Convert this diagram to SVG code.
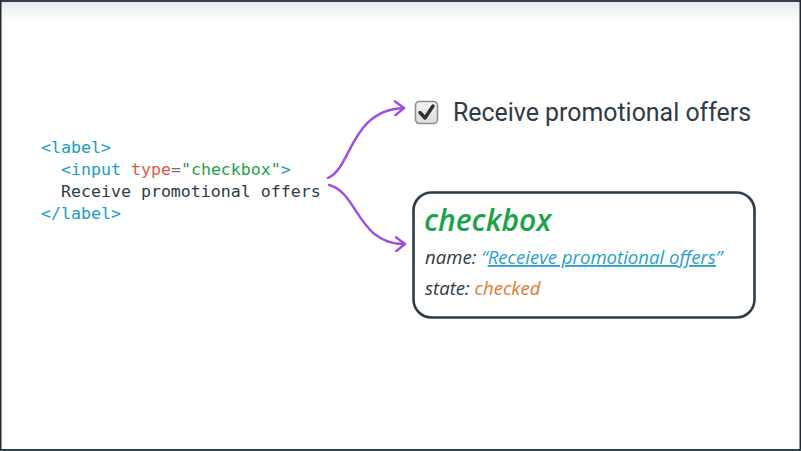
<svg xmlns="http://www.w3.org/2000/svg" width="801" height="451" viewBox="0 0 801 451">
<defs>
<linearGradient id="topshade" x1="0" y1="0" x2="0" y2="1">
<stop offset="0" stop-color="#e6e8ea"/>
<stop offset="1" stop-color="#ffffff"/>
</linearGradient>
<linearGradient id="cbfill" x1="0" y1="0" x2="0" y2="1">
<stop offset="0" stop-color="#f4f4f4"/>
<stop offset="1" stop-color="#dcdcdc"/>
</linearGradient>
<marker id="arrow" viewBox="0 0 12 16" refX="10" refY="8" markerWidth="12" markerHeight="16" markerUnits="userSpaceOnUse" orient="auto">
<path d="M1,1 L10,8 L1,15" fill="none" stroke="#9b4ee0" stroke-width="2.4" stroke-linecap="round" stroke-linejoin="round"/>
</marker>
<style>
.code{font-family:"DejaVu Sans Mono","Liberation Mono",monospace;font-size:16.6px;fill:#2f3a45}
.tag{fill:#1b9cc4}
.attr{fill:#e0554c}
.eq{fill:#6b7480}
.str{fill:#1fa24a}
.hand{font-family:"Open Sans","DejaVu Sans",sans-serif;font-style:italic}
.conn{fill:none;stroke:#9b4ee0;stroke-width:2.4;stroke-linecap:round}
</style>
</defs>
<rect x="0" y="0" width="801" height="451" fill="#ffffff"/>
<rect x="0" y="0" width="801" height="22" fill="url(#topshade)"/>
<rect x="0" y="0" width="801" height="2" fill="#34404c"/>
<rect x="0" y="0" width="1.5" height="451" fill="#1e2a33"/>
<rect x="799.5" y="0" width="1.5" height="451" fill="#1e2a33"/>
<rect x="0" y="449" width="801" height="2" fill="#34404c"/>

<g id="code">
<text class="code" x="41" y="153"><tspan class="tag">&lt;label&gt;</tspan></text>
<text class="code" x="41" y="175" xml:space="preserve">  <tspan class="tag">&lt;input</tspan> <tspan class="attr">type</tspan><tspan class="eq">=</tspan><tspan class="str">"checkbox"</tspan><tspan class="tag">&gt;</tspan></text>
<text class="code" x="41" y="197" xml:space="preserve">  Receive promotional offers</text>
<text class="code" x="41" y="219"><tspan class="tag">&lt;/label&gt;</tspan></text>
</g>

<g id="rendered-checkbox">
<rect x="415.5" y="101.5" width="22" height="22" rx="4" fill="url(#cbfill)" stroke="#8a8f94" stroke-width="1.6"/>
<path d="M420,112.5 L425,118 L433,106" fill="none" stroke="#2d3136" stroke-width="3.4" stroke-linecap="round" stroke-linejoin="round"/>
<text x="453" y="121" font-family="Roboto,'Liberation Sans',sans-serif" font-size="24.9" fill="#2f3a45">Receive promotional offers</text>
</g>

<g id="accessibility-node">
<rect x="413.5" y="192.5" width="341" height="125" rx="18" fill="#ffffff" stroke="#2f3d4a" stroke-width="2.6"/>
<text class="hand" x="424" y="231" font-size="30" font-weight="600" fill="#1ba34a">checkbox</text>
<text class="hand" x="425" y="264" font-size="18.6" fill="#2f3a45">name: <tspan fill="#2aa0c8">“</tspan><tspan fill="#2aa0c8" text-decoration="underline">Receieve promotional offers</tspan><tspan fill="#2aa0c8">”</tspan></text>
<text class="hand" x="425" y="295" font-size="18.6" fill="#2f3a45">state: <tspan fill="#e07b2a">checked</tspan></text>
</g>

<g id="connectors">
<path class="conn" d="M328,178 C352,168 350,110 404,108" marker-end="url(#arrow)"/>
<path class="conn" d="M329,185 C358,192 358,245 405,244" marker-end="url(#arrow)"/>
</g>
</svg>
